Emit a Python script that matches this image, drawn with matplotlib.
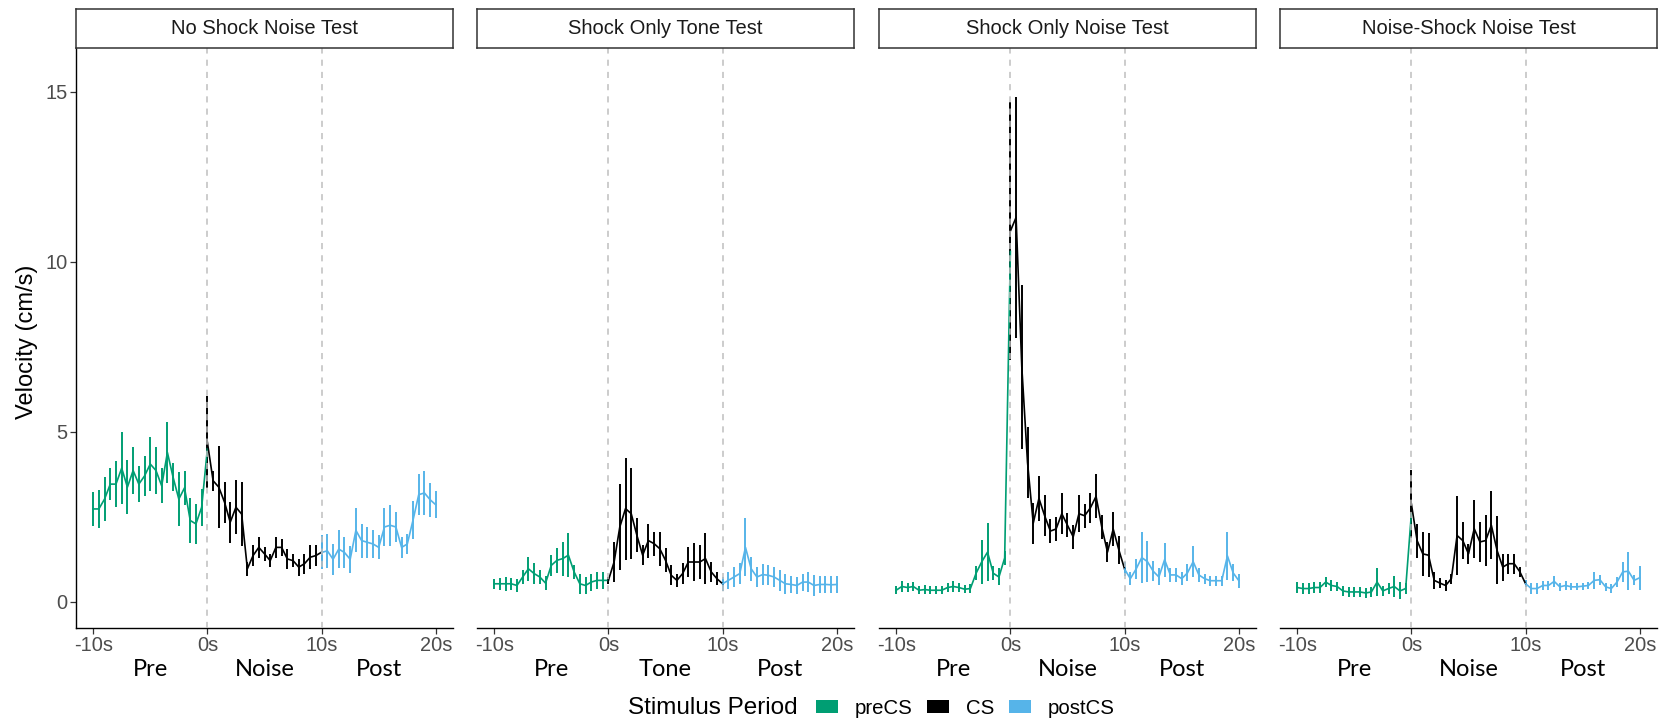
import numpy as np
import matplotlib.pyplot as plt
import matplotlib.transforms as mtransforms
from matplotlib.patches import Patch

plt.rcParams['font.family'] = ['Liberation Sans', 'DejaVu Sans']

# facetas y periodos
panel_titles = ['No Shock Noise Test', 'Shock Only Tone Test',
                'Shock Only Noise Test', 'Noise-Shock Noise Test']
cs_names = ['Noise', 'Tone', 'Noise', 'Noise']
period_labels = ['preCS', 'CS', 'postCS']
period_colors = ['#009E73', '#000000', '#56B4E9']
tick_pos = [-10, 0, 10, 20]
tick_labels = ['-10s', '0s', '10s', '20s']

# tiempos (bins de 0.5 s)
t_pre = np.arange(-10, 0.25, 0.5)
t_cs = np.arange(0, 10.25, 0.5)
t_post = np.arange(10, 20.25, 0.5)

# --- No Shock Noise Test
nsn_pre = [2.73, 2.73, 3.02, 3.46, 3.46, 3.93, 3.37, 3.86, 3.46, 3.7, 4.05,
           3.86, 3.41, 4.39, 3.66, 3.02, 3.35, 2.39, 2.29, 2.78, 4.5]
nsn_pre_se = [0.51, 0.55, 0.64, 0.48, 0.68, 1.05, 0.8, 0.7, 0.54, 0.6, 0.8,
              0.68, 0.51, 0.9, 0.41, 0.8, 0.49, 0.66, 0.59, 0.54, 0.3]
nsn_cs = [4.69, 3.56, 3.37, 2.93, 2.34, 2.78, 2.58, 0.97, 1.36, 1.6, 1.41,
          1.21, 1.6, 1.6, 1.26, 1.21, 1.02, 1.12, 1.31, 1.36, 1.46]
nsn_cs_se = [1.35, 0.3, 1.2, 0.6, 0.6, 0.8, 0.95, 0.2, 0.3, 0.3, 0.2,
             0.2, 0.3, 0.25, 0.3, 0.2, 0.25, 0.3, 0.35, 0.3, 0.3]
nsn_post = [1.45, 1.5, 1.25, 1.55, 1.45, 1.25, 2.1, 1.8, 1.75, 1.7, 1.6,
            2.2, 2.25, 2.2, 1.6, 1.7, 2.4, 3.15, 3.2, 3.0, 2.85]
nsn_post_se = [0.5, 0.5, 0.45, 0.55, 0.45, 0.4, 0.65, 0.5, 0.45, 0.4, 0.35,
               0.55, 0.6, 0.45, 0.3, 0.3, 0.55, 0.6, 0.65, 0.5, 0.4]

# --- Shock Only Tone Test
sot_pre = [0.53, 0.53, 0.53, 0.53, 0.48, 0.73, 0.97, 0.83, 0.73, 0.55, 1.07,
           1.22, 1.27, 1.37, 0.88, 0.53, 0.48, 0.58, 0.63, 0.63, 0.63]
sot_pre_se = [0.15, 0.18, 0.2, 0.18, 0.2, 0.2, 0.35, 0.3, 0.2, 0.2, 0.3,
              0.37, 0.5, 0.65, 0.2, 0.3, 0.25, 0.25, 0.25, 0.25, 0.1]
sot_cs = [0.63, 1.17, 2.2, 2.74, 2.59, 1.95, 1.37, 1.8, 1.71, 1.56, 1.22,
          0.78, 0.63, 0.83, 1.17, 1.17, 1.17, 1.27, 0.88, 0.68, 0.53]
sot_cs_se = [0.1, 0.6, 1.27, 1.5, 1.33, 0.5, 0.3, 0.5, 0.35, 0.5, 0.35,
             0.3, 0.2, 0.3, 0.45, 0.55, 0.5, 0.75, 0.3, 0.2, 0.1]
sot_post = [0.53, 0.63, 0.73, 0.83, 1.6, 0.97, 0.73, 0.8, 0.78, 0.73, 0.63,
            0.53, 0.51, 0.48, 0.58, 0.58, 0.48, 0.51, 0.51, 0.5, 0.51]
sot_post_se = [0.2, 0.25, 0.3, 0.3, 0.85, 0.35, 0.3, 0.3, 0.3, 0.3, 0.3,
               0.3, 0.25, 0.25, 0.25, 0.3, 0.3, 0.25, 0.25, 0.25, 0.25]

# --- Shock Only Noise Test
son_pre = [0.34, 0.45, 0.42, 0.45, 0.34, 0.36, 0.34, 0.34, 0.34, 0.42, 0.45,
           0.42, 0.37, 0.39, 0.84, 1.18, 1.46, 0.84, 0.73, 1.29, 10.3]
son_pre_se = [0.12, 0.15, 0.12, 0.12, 0.12, 0.12, 0.12, 0.12, 0.12, 0.12, 0.15,
              0.12, 0.12, 0.12, 0.2, 0.65, 0.85, 0.2, 0.25, 0.2, 0.5]
son_cs = [10.9, 11.3, 6.9, 4.1, 2.31, 3.04, 2.53, 2.08, 2.14, 2.59, 2.25,
          1.91, 2.59, 2.53, 2.76, 3.1, 2.2, 1.46, 2.14, 1.52, 0.96]
son_cs_se = [3.8, 3.55, 2.4, 1.04, 0.6, 0.65, 0.6, 0.35, 0.35, 0.6, 0.35,
             0.35, 0.55, 0.35, 0.45, 0.65, 0.35, 0.3, 0.5, 0.4, 0.2]
son_post = [0.96, 0.68, 0.96, 1.3, 1.18, 0.9, 0.73, 1.24, 0.79, 0.79, 0.68,
            0.85, 1.18, 0.79, 0.68, 0.62, 0.62, 0.62, 1.35, 0.85, 0.62]
son_post_se = [0.2, 0.2, 0.3, 0.75, 0.6, 0.3, 0.25, 0.5, 0.2, 0.2, 0.2,
               0.25, 0.45, 0.2, 0.15, 0.15, 0.15, 0.15, 0.7, 0.25, 0.2]

# --- Noise-Shock Noise Test
nsh_pre = [0.42, 0.39, 0.39, 0.42, 0.42, 0.58, 0.48, 0.45, 0.32, 0.29, 0.29,
           0.29, 0.26, 0.29, 0.58, 0.32, 0.39, 0.45, 0.32, 0.39, 2.59]
nsh_pre_se = [0.15, 0.15, 0.15, 0.15, 0.15, 0.15, 0.15, 0.12, 0.15, 0.15, 0.15,
              0.15, 0.15, 0.15, 0.4, 0.15, 0.15, 0.3, 0.25, 0.15, 0.3]
nsh_cs = [2.88, 1.8, 1.41, 1.37, 0.63, 0.55, 0.48, 0.68, 1.95, 1.8, 1.41,
          2.15, 1.76, 1.8, 2.25, 1.51, 1.02, 1.12, 1.12, 0.88, 0.53]
nsh_cs_se = [1.0, 0.5, 0.65, 0.65, 0.25, 0.15, 0.15, 0.15, 1.15, 0.55, 0.3,
             0.85, 0.6, 0.75, 1.0, 1.0, 0.4, 0.3, 0.3, 0.15, 0.1]
nsh_post = [0.53, 0.39, 0.39, 0.48, 0.48, 0.6, 0.44, 0.48, 0.44, 0.44, 0.46,
            0.48, 0.63, 0.65, 0.44, 0.39, 0.58, 0.88, 0.9, 0.63, 0.71]
nsh_post_se = [0.1, 0.15, 0.15, 0.12, 0.12, 0.15, 0.12, 0.12, 0.1, 0.1, 0.1,
               0.1, 0.25, 0.15, 0.12, 0.12, 0.15, 0.3, 0.55, 0.15, 0.35]

means = [(nsn_pre, nsn_cs, nsn_post), (sot_pre, sot_cs, sot_post),
         (son_pre, son_cs, son_post), (nsh_pre, nsh_cs, nsh_post)]
errors = [(nsn_pre_se, nsn_cs_se, nsn_post_se), (sot_pre_se, sot_cs_se, sot_post_se),
          (son_pre_se, son_cs_se, son_post_se), (nsh_pre_se, nsh_cs_se, nsh_post_se)]
tiempos = (t_pre, t_cs, t_post)

W, H = 1665, 723
fig = plt.figure(figsize=(W / 100, H / 100), dpi=100)

lefts = [76, 477, 879, 1280]
ancho = 377
arriba, abajo, tope_strip = 47.7, 628, 9

for i in range(4):
    ax = fig.add_axes([lefts[i] / W, 1 - abajo / H, ancho / W, (abajo - arriba) / H])
    for t, m, e, c in zip(tiempos, means[i], errors[i], period_colors):
        ax.errorbar(t, m, yerr=e, color=c, lw=1.2, elinewidth=1.4,
                    capsize=0, zorder=2)
    for xv in (0, 10):
        ax.axvline(xv, color='#BEBEBE', lw=1.1, ls=(0, (4, 4)), zorder=4)

    ax.set_xlim(-11.5, 21.5)
    ax.set_ylim(-0.77, 16.29)
    ax.set_xticks(tick_pos)
    ax.set_xticklabels(tick_labels)
    ax.set_yticks([0, 5, 10, 15])
    ax.tick_params(length=4, width=0.9, color='#333333', labelcolor='#4D4D4D',
                   labelsize=14.4, pad=2)
    for s in ('top', 'right'):
        ax.spines[s].set_visible(False)
    ax.spines['bottom'].set_linewidth(1.0)
    if i == 0:
        ax.spines['left'].set_linewidth(1.0)
    else:
        ax.spines['left'].set_visible(False)
        ax.tick_params(axis='y', left=False, labelleft=False)

    # etiquetas Pre / CS / Post bajo el eje
    trans = mtransforms.blended_transform_factory(ax.transData, ax.transAxes)
    for xv, txt in zip((-5, 5, 15), ('Pre', cs_names[i], 'Post')):
        ax.text(xv, -0.083, txt, transform=trans, ha='center', va='baseline',
                fontsize=17, family=['Lato', 'DejaVu Sans'], color='black')

    # strip
    st = fig.add_axes([lefts[i] / W, 1 - arriba / H, ancho / W, (arriba - tope_strip) / H])
    st.set_xticks([])
    st.set_yticks([])
    for s in st.spines.values():
        s.set_linewidth(1.1)
        s.set_color('#333333')
    st.text(0.5, 0.5, panel_titles[i], ha='center', va='center',
            fontsize=14.5, color='#1A1A1A', transform=st.transAxes)

fig.text(27 / W, 1 - 342 / H, 'Velocity (cm/s)', rotation=90, ha='center',
         va='center', fontsize=17)

# leyenda
fig.text(798 / W, 1 - 708 / H, 'Stimulus Period', ha='right', va='center',
         fontsize=17.5)
handles = [Patch(facecolor=c, edgecolor='none') for c in period_colors]
fig.legend(handles, period_labels, loc='center left',
           bbox_to_anchor=(816 / W, 1 - 708 / H), ncol=3, frameon=False,
           fontsize=14.7, handlelength=1.08, handleheight=0.64,
           handletextpad=0.8, columnspacing=0.75, borderpad=0, borderaxespad=0)

fig.savefig('out.png', dpi=100)
